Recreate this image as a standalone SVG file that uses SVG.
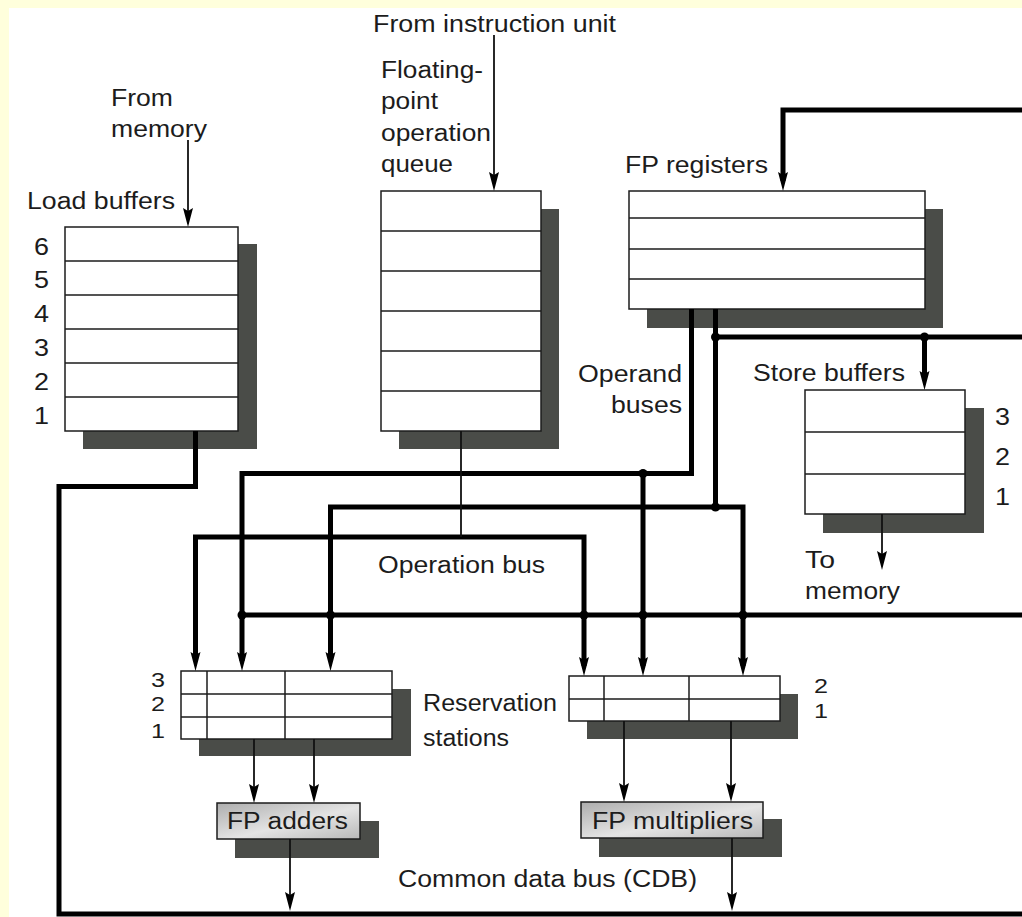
<svg xmlns="http://www.w3.org/2000/svg" width="1022" height="917" viewBox="0 0 1022 917">
<defs>
<style>
.t{font-family:"Liberation Sans",Arial,Helvetica,sans-serif;font-size:23px;fill:#1c1c1c}
.n{font-family:"Liberation Sans",Arial,Helvetica,sans-serif;font-size:23px;fill:#1c1c1c}
.ns{font-family:"Liberation Sans",Arial,Helvetica,sans-serif;font-size:21px;fill:#1c1c1c}
.sh{fill:#4a4c48}
.bx{fill:#fff;stroke:#1c1c1c;stroke-width:1.5}
.fu{fill:url(#gr);stroke:#1c1c1c;stroke-width:1.5}
.rl{stroke:#1c1c1c;stroke-width:1.5;fill:none}
.k{stroke:#000;stroke-width:5;fill:none;stroke-linejoin:miter}
.th{stroke:#111;stroke-width:1.8;fill:none}
.a{marker-end:url(#ah)}
.d{fill:#000}
</style>
<linearGradient id="gr" x1="0" y1="0" x2="1" y2="1">
<stop offset="0" stop-color="#adadad"/>
<stop offset="0.55" stop-color="#e4e4e4"/>
<stop offset="1" stop-color="#b8b8b8"/>
</linearGradient>
<marker id="ah" viewBox="-10 -6 21 12" refX="0" refY="0" markerWidth="21" markerHeight="12" markerUnits="userSpaceOnUse" orient="auto-start-reverse">
<path d="M10,0 L-9,-5 L-6,0 L-9,5 Z" fill="#000"/>
</marker>
</defs>
<rect x="0" y="0" width="1022" height="917" fill="#ffffdc"/>
<rect x="9" y="8" width="1013" height="909" fill="#fff"/>

<g id="load-buffers">
<rect class="sh" x="83" y="244" width="174" height="205"/>
<rect class="bx" x="65" y="227" width="173" height="204"/>
<path class="rl" d="M65,261H238M65,295H238M65,329H238M65,363H238M65,397H238"/>
<text class="n" x="34" y="255" textLength="15" lengthAdjust="spacingAndGlyphs">6</text>
<text class="n" x="34" y="288" textLength="15" lengthAdjust="spacingAndGlyphs">5</text>
<text class="n" x="34" y="322" textLength="15" lengthAdjust="spacingAndGlyphs">4</text>
<text class="n" x="34" y="356" textLength="15" lengthAdjust="spacingAndGlyphs">3</text>
<text class="n" x="34" y="390" textLength="15" lengthAdjust="spacingAndGlyphs">2</text>
<text class="n" x="34" y="424" textLength="15" lengthAdjust="spacingAndGlyphs">1</text>
<text class="t" x="111" y="106" textLength="62" lengthAdjust="spacingAndGlyphs">From</text>
<text class="t" x="111" y="137" textLength="96" lengthAdjust="spacingAndGlyphs">memory</text>
<text class="t" x="27" y="209" textLength="148" lengthAdjust="spacingAndGlyphs">Load buffers</text>
</g>

<g id="op-queue">
<rect class="sh" x="399" y="209" width="160" height="240"/>
<rect class="bx" x="381" y="191" width="160" height="240"/>
<path class="rl" d="M381,231H541M381,271H541M381,311H541M381,351H541M381,391H541"/>
<text class="t" x="373" y="32" textLength="243" lengthAdjust="spacingAndGlyphs">From instruction unit</text>
<text class="t" x="381" y="78" textLength="102" lengthAdjust="spacingAndGlyphs">Floating-</text>
<text class="t" x="381" y="109" textLength="57" lengthAdjust="spacingAndGlyphs">point</text>
<text class="t" x="381" y="141" textLength="110" lengthAdjust="spacingAndGlyphs">operation</text>
<text class="t" x="381" y="172" textLength="72" lengthAdjust="spacingAndGlyphs">queue</text>
</g>

<g id="fp-registers">
<rect class="sh" x="647" y="209" width="296" height="119"/>
<rect class="bx" x="629" y="191" width="296" height="118"/>
<path class="rl" d="M629,218H925M629,249H925M629,279H925"/>
<text class="t" x="625" y="173" textLength="143" lengthAdjust="spacingAndGlyphs">FP registers</text>
</g>

<g id="store-buffers">
<rect class="sh" x="823" y="408" width="161" height="125"/>
<rect class="bx" x="805" y="390" width="160" height="124"/>
<path class="rl" d="M805,432H965M805,474H965"/>
<text class="n" x="995" y="425" textLength="15" lengthAdjust="spacingAndGlyphs">3</text>
<text class="n" x="995" y="465" textLength="15" lengthAdjust="spacingAndGlyphs">2</text>
<text class="n" x="995" y="505" textLength="15" lengthAdjust="spacingAndGlyphs">1</text>
<text class="t" x="753" y="381" textLength="152" lengthAdjust="spacingAndGlyphs">Store buffers</text>
<text class="t" x="805" y="568" textLength="30" lengthAdjust="spacingAndGlyphs">To</text>
<text class="t" x="805" y="599" textLength="95" lengthAdjust="spacingAndGlyphs">memory</text>
</g>

<g id="labels">
<text class="t" x="578" y="382" textLength="104" lengthAdjust="spacingAndGlyphs">Operand</text>
<text class="t" x="611" y="413" textLength="71" lengthAdjust="spacingAndGlyphs">buses</text>
<text class="t" x="378" y="573" textLength="167" lengthAdjust="spacingAndGlyphs">Operation bus</text>
<text class="t" x="423" y="711" textLength="134" lengthAdjust="spacingAndGlyphs">Reservation</text>
<text class="t" x="423" y="746" textLength="86" lengthAdjust="spacingAndGlyphs">stations</text>
<text class="t" x="398" y="887" textLength="299" lengthAdjust="spacingAndGlyphs">Common data bus (CDB)</text>
</g>

<g id="rs-adders">
<rect class="sh" x="199" y="689" width="212" height="67"/>
<rect class="bx" x="181" y="671" width="211" height="68"/>
<path class="rl" d="M181,694H392M181,717H392M207,671V739M285,671V739"/>
<text class="ns" x="151" y="687" textLength="14" lengthAdjust="spacingAndGlyphs">3</text>
<text class="ns" x="151" y="711" textLength="14" lengthAdjust="spacingAndGlyphs">2</text>
<text class="ns" x="151" y="738" textLength="14" lengthAdjust="spacingAndGlyphs">1</text>
</g>

<g id="rs-multipliers">
<rect class="sh" x="587" y="694" width="211" height="45"/>
<rect class="bx" x="569" y="676" width="211" height="45"/>
<path class="rl" d="M569,699H780M604,676V721M689,676V721"/>
<text class="ns" x="814" y="693" textLength="14" lengthAdjust="spacingAndGlyphs">2</text>
<text class="ns" x="814" y="718" textLength="14" lengthAdjust="spacingAndGlyphs">1</text>
</g>

<g id="fp-adders">
<rect class="sh" x="235" y="821" width="144" height="37"/>
<rect class="fu" x="217" y="803" width="143" height="36"/>
<text class="t" x="227" y="829" textLength="121" lengthAdjust="spacingAndGlyphs">FP adders</text>
</g>

<g id="fp-multipliers">
<rect class="sh" x="599" y="819" width="183" height="38"/>
<rect class="fu" x="581" y="802" width="182" height="36"/>
<text class="t" x="592" y="829" textLength="161" lengthAdjust="spacingAndGlyphs">FP multipliers</text>
</g>

<g id="connectors">
<path class="k" d="M1022,914H59V486.5H195.5V431"/>
<path class="k a" d="M1022,110H783V181"/>
<path class="k a" d="M691.5,309V473.5H242V661"/>
<path class="k a" d="M643,473.5V666"/>
<path class="k a" d="M715.5,309V507H330.5V661"/>
<path class="k a" d="M715.5,507H743V666"/>
<path class="k" d="M715.5,337H1022"/>
<path class="k a" d="M924.5,337V380"/>
<path class="k a" d="M584,666V537H195.5V661" style="marker-start:url(#ah)"/>
<path class="k" d="M1022,615H242"/>
<path class="th a" d="M188,140V217"/>
<path class="th a" d="M494,35V181"/>
<path class="th" d="M461,431V537"/>
<path class="th a" d="M882,514V560"/>
<path class="th a" d="M254,739V793"/>
<path class="th a" d="M314,739V793"/>
<path class="th a" d="M290,839V901"/>
<path class="th a" d="M624,721V792"/>
<path class="th a" d="M731,721V792"/>
<path class="th a" d="M732,838V901"/>
<circle class="d" cx="242" cy="615" r="4.5"/>
<circle class="d" cx="330.5" cy="615" r="4.5"/>
<circle class="d" cx="584" cy="615" r="4.5"/>
<circle class="d" cx="643" cy="615" r="4.5"/>
<circle class="d" cx="743" cy="615" r="4.5"/>
<circle class="d" cx="643" cy="473.5" r="4.5"/>
<circle class="d" cx="715.5" cy="507" r="4.5"/>
<circle class="d" cx="715.5" cy="337" r="4.5"/>
<circle class="d" cx="924.5" cy="337" r="4.5"/>
</g>
</svg>
